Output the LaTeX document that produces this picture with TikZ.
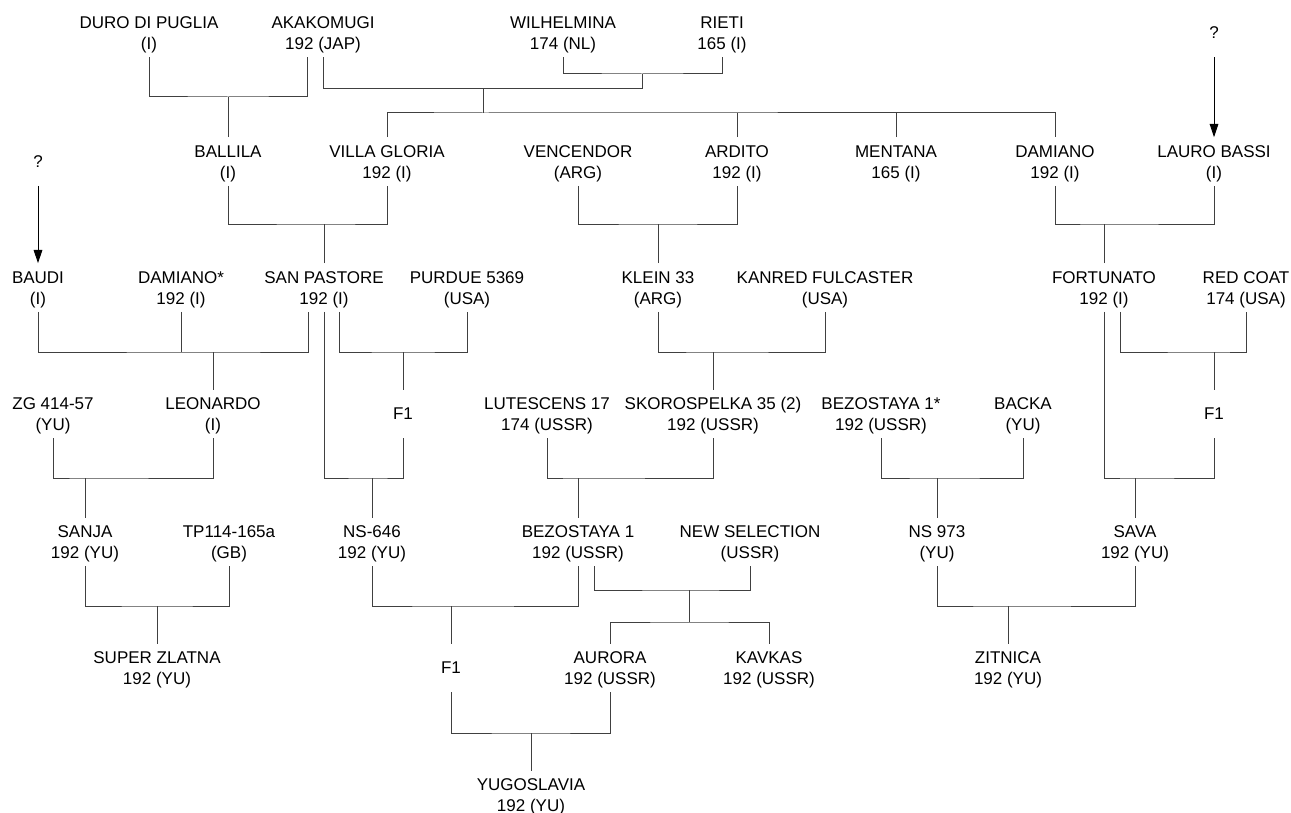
\documentclass[tikz,border=0pt]{standalone}
\usepackage{fontspec}
\setmainfont{Liberation Sans}
\usepackage{tikz}
\usetikzlibrary{arrows.meta,calc}
\tikzset{
  font=\fontsize{12.75}{15.75}\selectfont,
  cv/.style={align=center,inner sep=0pt,minimum height=36pt},
  ped/.style={draw=black!75,line width=0.75pt},
  intro/.style={-{Triangle[length=10pt,width=6.5pt]},draw=black,line width=0.75pt},
}
\newcommand\cvname[2]{\rule{0pt}{11.8pt}#1\\#2}

\begin{document}
\begin{tikzpicture}[x=0.75pt,y=-0.75pt]
  \useasboundingbox (0,0) rectangle (1291,813);

  % row 1
  \node[cv] (duro)   at (149,33) {\cvname{DURO DI PUGLIA}{(I)}};
  \node[cv] (akako)  at (323,33) {\cvname{AKAKOMUGI}{192 (JAP)}};
  \node[cv] (wilh)   at (563,33) {\cvname{WILHELMINA}{174 (NL)}};
  \node[cv] (rieti)  at (722,33) {\cvname{RIETI}{165 (I)}};
  \node[cv] (qright) at (1214,33) {?};

  % row 2
  \node[cv] (qleft)     at (38,161.5)   {?};
  \node[cv] (ballila)   at (228,161.5)  {\cvname{BALLILA}{(I)}};
  \node[cv] (villa)     at (387,161.5)  {\cvname{VILLA GLORIA}{192 (I)}};
  \node[cv] (vencendor) at (578,161.5)  {\cvname{VENCENDOR}{(ARG)}};
  \node[cv] (ardito)    at (737,161.5)  {\cvname{ARDITO}{192 (I)}};
  \node[cv] (mentana)   at (896,161.5)  {\cvname{MENTANA}{165 (I)}};
  \node[cv] (damiano)   at (1055,161.5) {\cvname{DAMIANO}{192 (I)}};
  \node[cv] (lauro)     at (1214,161.5) {\cvname{LAURO BASSI}{(I)}};

  % row 3
  \node[cv] (baudi)   at (38,287.5)   {\cvname{BAUDI}{(I)}};
  \node[cv] (damstar) at (181,287.5)  {\cvname{DAMIANO*}{192 (I)}};
  \node[cv] (sanp)    at (324,287.5)  {\cvname{SAN PASTORE}{192 (I)}};
  \node[cv] (purdue)  at (467,287.5)  {\cvname{PURDUE 5369}{(USA)}};
  \node[cv] (klein)   at (658,287.5)  {\cvname{KLEIN 33}{(ARG)}};
  \node[cv] (kanred)  at (825,287.5)  {\cvname{KANRED FULCASTER}{(USA)}};
  \node[cv] (fort)    at (1104,287.5) {\cvname{FORTUNATO}{192 (I)}};
  \node[cv] (redcoat) at (1246,287.5) {\cvname{RED COAT}{174 (USA)}};

  % row 4
  \node[cv] (zg)      at (53,414)   {\cvname{ZG 414-57}{(YU)}};
  \node[cv] (leon)    at (213,414)  {\cvname{LEONARDO}{(I)}};
  \node[cv] (fone)    at (403,414)  {F1};
  \node[cv] (lutes)   at (547,414)  {\cvname{LUTESCENS 17}{174 (USSR)}};
  \node[cv] (skoro)   at (713,414)  {\cvname{SKOROSPELKA 35 (2)}{192 (USSR)}};
  \node[cv] (bezstar) at (881,414)  {\cvname{BEZOSTAYA 1*}{192 (USSR)}};
  \node[cv] (backa)   at (1023,414) {\cvname{BACKA}{(YU)}};
  \node[cv] (ftwo)    at (1214,414) {F1};

  % row 5
  \node[cv] (sanja)  at (85,542)   {\cvname{SANJA}{192 (YU)}};
  \node[cv] (tp)     at (229,542)  {\cvname{TP114-165a}{(GB)}};
  \node[cv] (ns646)  at (372,542)  {\cvname{NS-646}{192 (YU)}};
  \node[cv] (bez)    at (578,542)  {\cvname{BEZOSTAYA 1}{192 (USSR)}};
  \node[cv] (newsel) at (750,542)  {\cvname{NEW SELECTION}{(USSR)}};
  \node[cv] (ns973)  at (937,542)  {\cvname{NS 973}{(YU)}};
  \node[cv] (sava)   at (1135,542) {\cvname{SAVA}{192 (YU)}};

  % row 6
  \node[cv] (zlatna)  at (157,668)  {\cvname{SUPER ZLATNA}{192 (YU)}};
  \node[cv] (fthree)  at (451,668)  {F1};
  \node[cv] (aurora)  at (610,668)  {\cvname{AURORA}{192 (USSR)}};
  \node[cv] (kavkas)  at (769,668)  {\cvname{KAVKAS}{192 (USSR)}};
  \node[cv] (zitnica) at (1008,668) {\cvname{ZITNICA}{192 (YU)}};

  % row 7
  \node[cv] (yugo) at (531,795) {\cvname{YUGOSLAVIA}{192 (YU)}};

  % bar levels
  \coordinate (g1) at (0,97);
  \coordinate (g2) at (0,74);
  \coordinate (g5) at (0,224);
  \coordinate (g6) at (0,352);
  \coordinate (g7) at (0,478);
  \coordinate (g8) at (0,606);
  \coordinate (g10) at (0,622);
  \coordinate (g11) at (0,733);
  \coordinate (wr) at (642,89);
  \coordinate (sib) at (483,113);
  \coordinate (bn) at (689,590);

  % unknown parents
  \draw[intro] (qright) -- (lauro);
  \draw[intro] (qleft) -- (baudi);

  % row 1 -> row 2
  \draw[ped] (duro.south) |- (ballila.north |- g1) -| ([xshift=-12pt]akako.south);
  \draw[ped] (ballila.north) -- (ballila.north |- g1);
  \draw[ped] (wilh.south) |- (wr |- g2) -| (rieti.south);
  \draw[ped] (wr |- g2) -- (wr);
  \draw[ped] (akako.south) |- (wr);
  \draw[ped] (sib |- wr) -- (sib);
  \draw[ped] (villa.north) |- (sib) -| (damiano.north);
  \draw[ped] (ardito.north) -- (ardito.north |- sib);
  \draw[ped] (mentana.north) -- (mentana.north |- sib);

  % row 2 -> row 3
  \draw[ped] (ballila.south) |- (sanp.north |- g5) -| (villa.south);
  \draw[ped] (sanp.north) -- (sanp.north |- g5);
  \draw[ped] (vencendor.south) |- (klein.north |- g5) -| (ardito.south);
  \draw[ped] (klein.north) -- (klein.north |- g5);
  \draw[ped] (damiano.south) |- (fort.north |- g5) -| (lauro.south);
  \draw[ped] (fort.north) -- (fort.north |- g5);

  % row 3 -> row 4
  \draw[ped] (baudi.south) |- (leon.north |- g6) -| ([xshift=-12pt]sanp.south);
  \draw[ped] (damstar.south) -- (damstar.south |- g6);
  \draw[ped] (leon.north) -- (leon.north |- g6);
  \draw[ped] ([xshift=11.25pt]sanp.south) |- (fone.north |- g6) -| (purdue.south);
  \draw[ped] (fone.north) -- (fone.north |- g6);
  \draw[ped] (klein.south) |- (skoro.north |- g6) -| (kanred.south);
  \draw[ped] (skoro.north) -- (skoro.north |- g6);
  \draw[ped] ([xshift=12pt]fort.south) |- (ftwo.north |- g6) -| (redcoat.south);
  \draw[ped] (ftwo.north) -- (ftwo.north |- g6);

  % row 4 -> row 5
  \draw[ped] (zg.south) |- (sanja.north |- g7) -| (leon.south);
  \draw[ped] (sanja.north) -- (sanja.north |- g7);
  \draw[ped] (sanp.south) |- (ns646.north |- g7) -| (fone.south);
  \draw[ped] (ns646.north) -- (ns646.north |- g7);
  \draw[ped] (lutes.south) |- (bez.north |- g7) -| (skoro.south);
  \draw[ped] (bez.north) -- (bez.north |- g7);
  \draw[ped] (bezstar.south) |- (ns973.north |- g7) -| (backa.south);
  \draw[ped] (ns973.north) -- (ns973.north |- g7);
  \draw[ped] (fort.south) |- (sava.north |- g7) -| (ftwo.south);
  \draw[ped] (sava.north) -- (sava.north |- g7);

  % row 5 -> row 6
  \draw[ped] (sanja.south) |- (zlatna.north |- g8) -| (tp.south);
  \draw[ped] (zlatna.north) -- (zlatna.north |- g8);
  \draw[ped] (ns646.south) |- (fthree.north |- g8) -| (bez.south);
  \draw[ped] (fthree.north) -- (fthree.north |- g8);
  \draw[ped] ([xshift=12pt]bez.south) |- (bn) -| (newsel.south);
  \draw[ped] (bn) -- (bn |- g10);
  \draw[ped] (aurora.north) |- (bn |- g10) -| (kavkas.north);
  \draw[ped] (ns973.south) |- (zitnica.north |- g8) -| (sava.south);
  \draw[ped] (zitnica.north) -- (zitnica.north |- g8);

  % row 6 -> row 7
  \draw[ped] (fthree.south) |- (yugo.north |- g11) -| (aurora.south);
  \draw[ped] (yugo.north) -- (yugo.north |- g11);
\end{tikzpicture}
\end{document}
